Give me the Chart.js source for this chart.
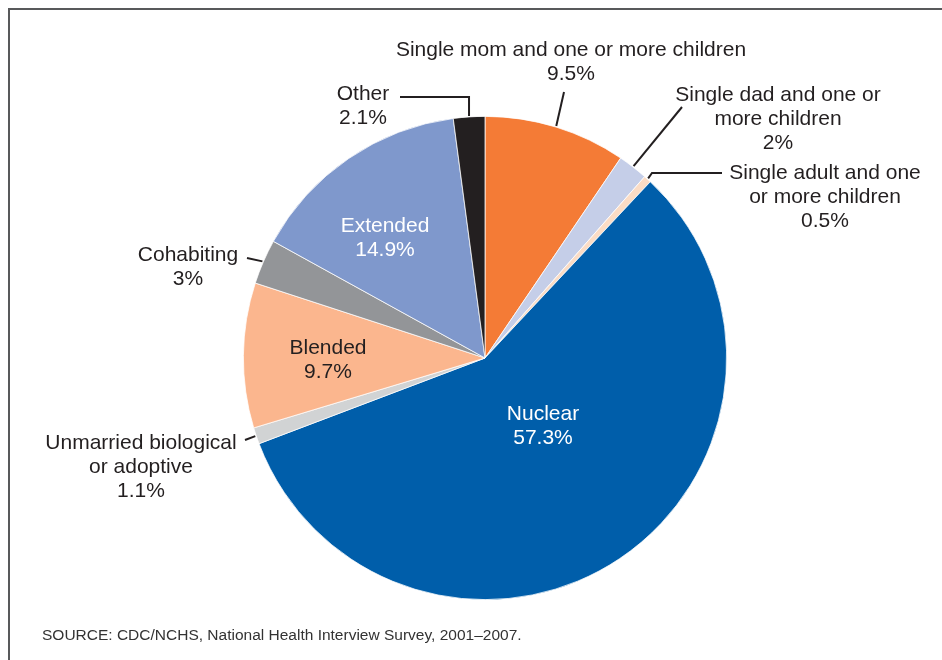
<!DOCTYPE html>
<html>
<head>
<meta charset="utf-8">
<script src="https://cdn.jsdelivr.net/npm/chart.js@4"></script>
<style>
  html, body { margin: 0; padding: 0; background: #fff; }
  #wrap { position: relative; width: 942px; height: 660px; }
</style>
</head>
<body>
<div id="wrap"><canvas id="pie"></canvas></div>
<script>
// family structure shares, clockwise from 12 o'clock
const categories = [
  "Single mom and one or more children",
  "Single dad and one or more children",
  "Single adult and one or more children",
  "Nuclear",
  "Unmarried biological or adoptive",
  "Blended",
  "Cohabiting",
  "Extended",
  "Other",
];
const shares = [9.5, 2, 0.5, 57.3, 1.1, 9.7, 3, 14.9, 2.1];
const labelLines = [
  ["Single mom and one or more children"],
  ["Single dad and one or", "more children"],
  ["Single adult and one", "or more children"],
  ["Nuclear"],
  ["Unmarried biological", "or adoptive"],
  ["Blended"],
  ["Cohabiting"],
  ["Extended"],
  ["Other"],
];
const sliceColors = ["#f47b36", "#c5cee8", "#fbdcc5", "#005eaa", "#d1d3d4", "#fbb68e", "#939598", "#7f98cc", "#231f20"];
const sourceNote = "SOURCE: CDC/NCHS, National Health Interview Survey, 2001\u20132007.";

const ink = "#231f20";
const font = '21px "Liberation Sans", Arial, sans-serif';
const lineHeight = 24;

// where each label sits and how its leader line runs (null = no leader)
const placement = [
  { x: 571, y: 50, color: ink, leader: [[564, 92]] },
  { x: 778, y: 95, color: ink, leader: [[682, 107]] },
  { x: 825, y: 173, color: ink, leader: [[652, 173], [722, 173]] },
  { x: 543, y: 414, color: "#ffffff", leader: null },
  { x: 141, y: 443, color: ink, leader: [[245, 440]] },
  { x: 328, y: 348, color: ink, leader: null },
  { x: 188, y: 255, color: ink, leader: [[247, 258]] },
  { x: 385, y: 226, color: "#ffffff", leader: null },
  { x: 363, y: 94, color: ink, leader: [["up", 97], [400, 97]] },
];

const decorations = {
  id: "decorations",
  beforeDraw(chart) {
    const ctx = chart.ctx;
    ctx.save();
    ctx.fillStyle = "#58595b";
    ctx.fillRect(8, 8, 942 - 8, 2);
    ctx.fillRect(8, 8, 2, 660 - 8);
    ctx.restore();
  },
  afterDraw(chart) {
    const ctx = chart.ctx;
    const arcs = chart.getDatasetMeta(0).data;
    ctx.save();
    ctx.strokeStyle = ink;
    ctx.lineWidth = 2;
    placement.forEach((p, i) => {
      if (!p.leader) return;
      const arc = arcs[i];
      const mid = (arc.startAngle + arc.endAngle) / 2;
      const sx = arc.x + Math.cos(mid) * (arc.outerRadius + 1);
      const sy = arc.y + Math.sin(mid) * (arc.outerRadius + 1);
      ctx.beginPath();
      ctx.moveTo(sx, sy);
      p.leader.forEach(([lx, ly]) => ctx.lineTo(lx === "up" ? sx : lx, ly));
      ctx.stroke();
    });

    ctx.font = font;
    ctx.textAlign = "center";
    ctx.textBaseline = "middle";
    placement.forEach((p, i) => {
      const lines = [...labelLines[i], `${shares[i]}%`];
      ctx.fillStyle = p.color;
      lines.forEach((t, k) => ctx.fillText(t, p.x, p.y + k * lineHeight));
    });

    ctx.font = '15.5px "Liberation Sans", Arial, sans-serif';
    ctx.textAlign = "left";
    ctx.fillStyle = "#333333";
    ctx.fillText(sourceNote, 42, 636);
    ctx.restore();
  },
};

new Chart(document.getElementById("pie"), {
  type: "pie",
  data: {
    labels: categories,
    datasets: [{
      data: shares,
      backgroundColor: sliceColors,
      borderColor: "#ffffff",
      borderWidth: 0.75,
    }],
  },
  options: {
    responsive: true,
    maintainAspectRatio: false,
    animation: false,
    layout: { padding: { left: 243, right: 215, top: 116, bottom: 60 } },
    plugins: { legend: { display: false }, tooltip: { enabled: false } },
  },
  plugins: [decorations],
});
</script>
</body>
</html>
